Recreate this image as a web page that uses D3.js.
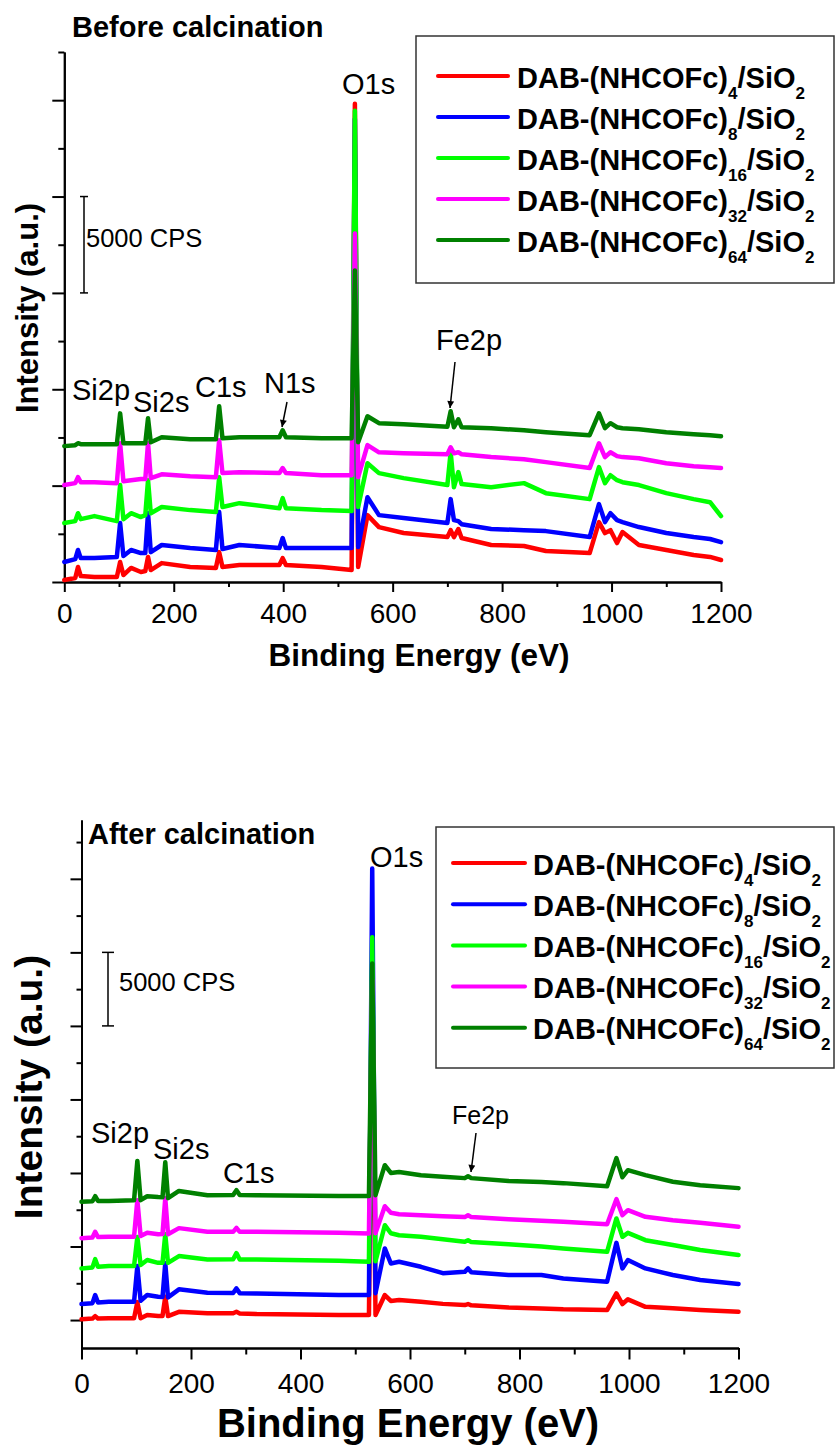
<!DOCTYPE html>
<html>
<head>
<meta charset="utf-8">
<script src="https://cdn.jsdelivr.net/npm/d3@7"></script>
<style>
  body { margin: 0; background: #fff; }
  svg { font-family: "Liberation Sans", Arial, sans-serif; }
</style>
</head>
<body>
<div id="chart"></div>
<script>
var w = 837;
var h = 1449;

// series order: drawn first to last (last one ends up on top)
var loadings = ["4", "8", "16", "32", "64"];
var colors = ["#ff0000", "#0000ff", "#00ff00", "#ff00ff", "#008000"];

var xTicks = [0, 200, 400, 600, 800, 1000, 1200];
var xMinorTicks = [100, 300, 500, 700, 900, 1100];

// ---- Before calcination (intensity in CPS, stacked as plotted) ----
var energyBefore = [0, 20, 25, 30, 55, 96, 102, 108, 122, 140, 148, 153, 158, 178, 230,
  277, 283, 289, 320, 393, 399, 405, 470, 525, 531, 537, 554, 575, 620, 700,
  706, 712, 720, 726, 780, 840, 880, 960, 977, 988, 998, 1010, 1020, 1050, 1100,
  1150, 1180, 1200];
var before4 = [100, 210, 780, 310, 260, 260, 1040, 360, 730, 520, 570, 1300, 620, 980, 780,
  730, 1550, 780, 880, 880, 1240, 880, 780, 620, 24810, 780, 3470, 2850, 2540, 2330,
  2690, 2330, 2750, 2280, 1920, 1870, 1610, 1500, 3110, 2540, 2690, 2020, 2590, 1920, 1660,
  1400, 1300, 1140];
var before8 = [1040, 1190, 1660, 1240, 1240, 1300, 3060, 1350, 1660, 1500, 1500, 3570, 1550, 1920, 1760,
  1660, 3630, 1710, 1920, 1760, 2280, 1760, 1760, 1760, 24040, 1810, 4400, 3470, 3320, 3060,
  4300, 3210, 3160, 3000, 2750, 2690, 2640, 2330, 4040, 3110, 3570, 3210, 3110, 2850, 2540,
  2330, 2230, 2070];
var before16 = [3060, 3160, 3570, 3260, 3420, 3160, 5030, 3260, 3570, 3370, 3470, 5280, 3570, 3890, 3730,
  3630, 5440, 3890, 4090, 3830, 4350, 3830, 3730, 3680, 24450, 3890, 6160, 5650, 5390, 5030,
  6730, 4920, 5700, 5080, 4920, 5130, 4610, 4300, 5960, 5130, 5540, 5280, 5180, 5030, 4610,
  4300, 4140, 3420];
var before32 = [5030, 5130, 5440, 5180, 5180, 5130, 7200, 5230, 5280, 5340, 5340, 7200, 5390, 5590, 5490,
  5440, 7360, 5650, 5700, 5650, 5910, 5650, 5540, 5540, 18080, 5440, 7100, 6730, 6680, 6630,
  6990, 6680, 6730, 6630, 6480, 6370, 6220, 5910, 7200, 6480, 6730, 6530, 6480, 6420, 6160,
  6010, 5960, 5910];
var before64 = [7050, 7100, 7200, 7150, 7150, 7150, 8750, 7200, 7200, 7200, 7200, 8500, 7250, 7510, 7410,
  7410, 9120, 7460, 7510, 7510, 7870, 7510, 7460, 7460, 16160, 7250, 8600, 8240, 8180, 8050,
  8860, 8030, 8440, 8030, 7980, 7870, 7770, 7620, 8750, 7980, 8240, 8030, 7980, 7930, 7770,
  7670, 7620, 7560];

// ---- After calcination ----
var energyAfter = [0, 20, 25, 30, 50, 96, 102, 108, 120, 140, 148, 153, 158, 178, 230,
  277, 283, 289, 320, 470, 525, 531, 537, 554, 565, 580, 620, 660, 700, 706,
  712, 780, 840, 880, 960, 977, 988, 998, 1030, 1080, 1130, 1200];
var after4 = [50, 100, 270, 110, 120, 120, 1220, 120, 340, 270, 280, 1580, 270, 560, 460,
  460, 560, 450, 410, 340, 340, 21740, 340, 1700, 1300, 1360, 1240, 1100, 1020, 1090,
  1000, 860, 790, 730, 680, 1810, 1090, 1410, 900, 800, 680, 560];
var after8 = [1090, 1150, 1700, 1200, 1240, 1240, 3670, 1310, 1700, 1580, 1560, 3870, 1540, 2090, 1860,
  1840, 2150, 1830, 1810, 1700, 1700, 30700, 1830, 4870, 3850, 3960, 3620, 3190, 3280, 3510,
  3250, 3060, 3060, 2830, 2600, 5250, 3510, 4080, 3510, 3060, 2720, 2450];
var after16 = [3510, 3580, 4140, 3620, 3670, 3670, 5640, 3740, 4080, 3890, 3900, 5840, 3890, 4350, 4120,
  4130, 4550, 4120, 4120, 4030, 3960, 26020, 4000, 6450, 5900, 5770, 5660, 5500, 5320, 5430,
  5300, 5160, 5000, 4870, 4640, 6910, 5660, 5930, 5430, 5100, 4760, 4420];
var after32 = [5570, 5620, 6000, 5650, 5660, 5660, 8150, 5710, 5930, 5840, 5850, 8290, 5840, 6250, 6000,
  6000, 6270, 6000, 6000, 5930, 5890, 23100, 5910, 7740, 7300, 7200, 7130, 7050, 7000, 7130,
  7000, 6860, 6750, 6680, 6520, 8220, 7130, 7470, 7020, 6790, 6610, 6340];
var after64 = [8040, 8080, 8420, 8100, 8100, 8150, 10820, 8150, 8420, 8360, 8350, 10730, 8290, 8780, 8490,
  8500, 8830, 8500, 8490, 8440, 8440, 24250, 8490, 10530, 10000, 10070, 9850, 9750, 9650, 9780,
  9650, 9460, 9380, 9310, 9100, 11010, 9710, 10190, 9850, 9400, 9170, 8970];

var svg = d3.select("#chart")
    .append("svg")
    .attr("width", w)
    .attr("height", h);

// arrow head for peak annotations
svg.append("defs").append("marker")
    .attr("id", "arrow")
    .attr("viewBox", "0 0 10 10")
    .attr("refX", 10).attr("refY", 5)
    .attr("markerWidth", 8).attr("markerHeight", 7)
    .attr("markerUnits", "userSpaceOnUse")
    .attr("orient", "auto")
    .append("path")
    .attr("d", "M0,0 L10,5 L0,10 z")
    .attr("fill", "black");

var panels = [
  {
    energy: energyBefore,
    series: [before4, before8, before16, before32, before64],
    left: 64.3, right: 721, top: 52, bottom: 582,
    yDomain: [0, 27500],
    yMajor: [0, 5000, 10000, 15000, 20000, 25000],
    yMinor: [2500, 7500, 12500, 17500, 22500, 27500],
    xMajorSize: 10, xMinorSize: 5, yMajorSize: 12, yMinorSize: 6,
    tickLabelY: 41,
    title: "Before calcination", titleX: 72, titleY: 37,
    xTitleX: 419, xTitleY: 666, xTitleSize: 31.5,
    yTitleX: 38, yTitleY: 308, yTitleSize: 31,
    bar: [15000, 20000], barX: 84, barCap: 4, barTextX: 86, barTextY: 247,
    legend: { x: 416, y: 36, w: 418, h: 247, lineX: 438, lineW: 70, rowY: 76, rowGap: 41, textX: 517 },
    labels: [
      { t: "O1s", x: 342, y: 94, s: 29 },
      { t: "Si2p", x: 72, y: 400, s: 29 },
      { t: "Si2s", x: 133, y: 412, s: 29 },
      { t: "C1s", x: 195, y: 397, s: 29 },
      { t: "N1s", x: 264, y: 393, s: 29 },
      { t: "Fe2p", x: 436, y: 350, s: 29 }
    ],
    arrows: [
      [287, 402, 282, 427],
      [455, 362, 450, 408]
    ]
  },
  {
    energy: energyAfter,
    series: [after4, after8, after16, after32, after64],
    left: 81.5, right: 738.5, top: 820, bottom: 1348,
    yDomain: [-1900, 34000],
    yMajor: [0, 5000, 10000, 15000, 20000, 25000, 30000],
    yMinor: [2500, 7500, 12500, 17500, 22500, 27500, 32500],
    xMajorSize: 11.5, xMinorSize: 6.5, yMajorSize: 11, yMinorSize: 5,
    tickLabelY: 45,
    title: "After calcination", titleX: 88, titleY: 844,
    xTitleX: 408, xTitleY: 1437, xTitleSize: 40,
    yTitleX: 42, yTitleY: 1087, yTitleSize: 39,
    bar: [20000, 25000], barX: 108, barCap: 6, barTextX: 119, barTextY: 991,
    legend: { x: 436, y: 827, w: 398, h: 241, lineX: 453, lineW: 72, rowY: 863, rowGap: 41.2, textX: 533 },
    labels: [
      { t: "O1s", x: 370, y: 867, s: 29 },
      { t: "Si2p", x: 91, y: 1143, s: 29 },
      { t: "Si2s", x: 153, y: 1159, s: 29 },
      { t: "C1s", x: 223, y: 1183, s: 29 },
      { t: "Fe2p", x: 452, y: 1124, s: 25 }
    ],
    arrows: [
      [476, 1133, 471, 1172]
    ]
  }
];

function drawPanel(p) {
  var x = d3.scaleLinear().domain([0, 1200]).range([p.left, p.right]);
  var y = d3.scaleLinear().domain(p.yDomain).range([p.bottom, p.top]);
  var g = svg.append("g");

  // x axis: minor ticks, then major ticks with labels
  g.append("g")
      .attr("transform", "translate(0," + p.bottom + ")")
      .call(d3.axisBottom(x).tickValues(xMinorTicks).tickSize(p.xMinorSize).tickSizeOuter(0).tickFormat(""))
      .call(styleAxis);
  var xa = g.append("g")
      .attr("transform", "translate(0," + p.bottom + ")")
      .call(d3.axisBottom(x).tickValues(xTicks).tickSize(p.xMajorSize).tickSizeOuter(0).tickFormat(d3.format("d")))
      .call(styleAxis);
  xa.selectAll("text")
      .attr("y", p.tickLabelY)
      .attr("dy", null)
      .attr("font-size", 28)
      .attr("fill", "black");

  // y axis without labels
  g.append("g")
      .attr("transform", "translate(" + p.left + ",0)")
      .call(d3.axisLeft(y).tickValues(p.yMinor).tickSize(p.yMinorSize).tickSizeOuter(0).tickFormat(""))
      .call(styleAxis);
  g.append("g")
      .attr("transform", "translate(" + p.left + ",0)")
      .call(d3.axisLeft(y).tickValues(p.yMajor).tickSize(p.yMajorSize).tickSizeOuter(0).tickFormat(""))
      .call(styleAxis);

  // spectra
  var line = d3.line()
      .x(function (d, i) { return x(p.energy[i]); })
      .y(function (d) { return y(d); });

  g.selectAll(".spectrum")
      .data(p.series)
      .enter()
      .append("path")
      .attr("class", "spectrum")
      .attr("d", line)
      .attr("fill", "none")
      .attr("stroke", function (d, i) { return colors[i]; })
      .attr("stroke-width", 4.5)
      .attr("stroke-linejoin", "round")
      .attr("stroke-linecap", "round");

  // 5000 CPS scale bar
  var bar = g.append("g").attr("stroke", "black").attr("stroke-width", 1.5);
  bar.append("line").attr("x1", p.barX).attr("x2", p.barX).attr("y1", y(p.bar[0])).attr("y2", y(p.bar[1]));
  bar.append("line").attr("x1", p.barX - p.barCap).attr("x2", p.barX + p.barCap).attr("y1", y(p.bar[0])).attr("y2", y(p.bar[0]));
  bar.append("line").attr("x1", p.barX - p.barCap).attr("x2", p.barX + p.barCap).attr("y1", y(p.bar[1])).attr("y2", y(p.bar[1]));
  g.append("text")
      .attr("x", p.barTextX).attr("y", p.barTextY)
      .attr("font-size", 25.5)
      .text("5000 CPS");

  // peak labels and arrows
  p.labels.forEach(function (l) {
    g.append("text").attr("x", l.x).attr("y", l.y).attr("font-size", l.s).text(l.t);
  });
  p.arrows.forEach(function (a) {
    g.append("line")
        .attr("x1", a[0]).attr("y1", a[1]).attr("x2", a[2]).attr("y2", a[3])
        .attr("stroke", "black").attr("stroke-width", 1.5)
        .attr("marker-end", "url(#arrow)");
  });

  // titles
  g.append("text")
      .attr("x", p.titleX).attr("y", p.titleY)
      .attr("font-size", 29).attr("font-weight", "bold")
      .text(p.title);
  g.append("text")
      .attr("x", p.xTitleX).attr("y", p.xTitleY)
      .attr("text-anchor", "middle")
      .attr("font-size", p.xTitleSize).attr("font-weight", "bold")
      .text("Binding Energy (eV)");
  g.append("text")
      .attr("transform", "translate(" + p.yTitleX + "," + p.yTitleY + ") rotate(-90)")
      .attr("text-anchor", "middle")
      .attr("font-size", p.yTitleSize).attr("font-weight", "bold")
      .text("Intensity (a.u.)");

  // legend
  var L = p.legend;
  g.append("rect")
      .attr("x", L.x).attr("y", L.y).attr("width", L.w).attr("height", L.h)
      .attr("fill", "white").attr("stroke", "#333").attr("stroke-width", 1.5);
  loadings.forEach(function (n, i) {
    var ry = L.rowY + i * L.rowGap;
    g.append("line")
        .attr("x1", L.lineX).attr("x2", L.lineX + L.lineW)
        .attr("y1", ry).attr("y2", ry)
        .attr("stroke", colors[i]).attr("stroke-width", 4).attr("stroke-linecap", "round");
    var t = g.append("text")
        .attr("x", L.textX).attr("y", ry + 11.5)
        .attr("font-size", 29).attr("font-weight", "bold");
    t.append("tspan").text("DAB-(NHCOFc)");
    t.append("tspan").attr("font-size", 17).attr("dy", 11).text(n);
    t.append("tspan").attr("dy", -11).text("/SiO");
    t.append("tspan").attr("font-size", 17).attr("dy", 11).text("2");
  });
}

function styleAxis(sel) {
  sel.attr("font-family", null).attr("font-size", null);
  sel.select(".domain").attr("stroke", "black").attr("stroke-width", 2);
  sel.selectAll(".tick line").attr("stroke", "black").attr("stroke-width", 2);
}

panels.forEach(drawPanel);
</script>
</body>
</html>
